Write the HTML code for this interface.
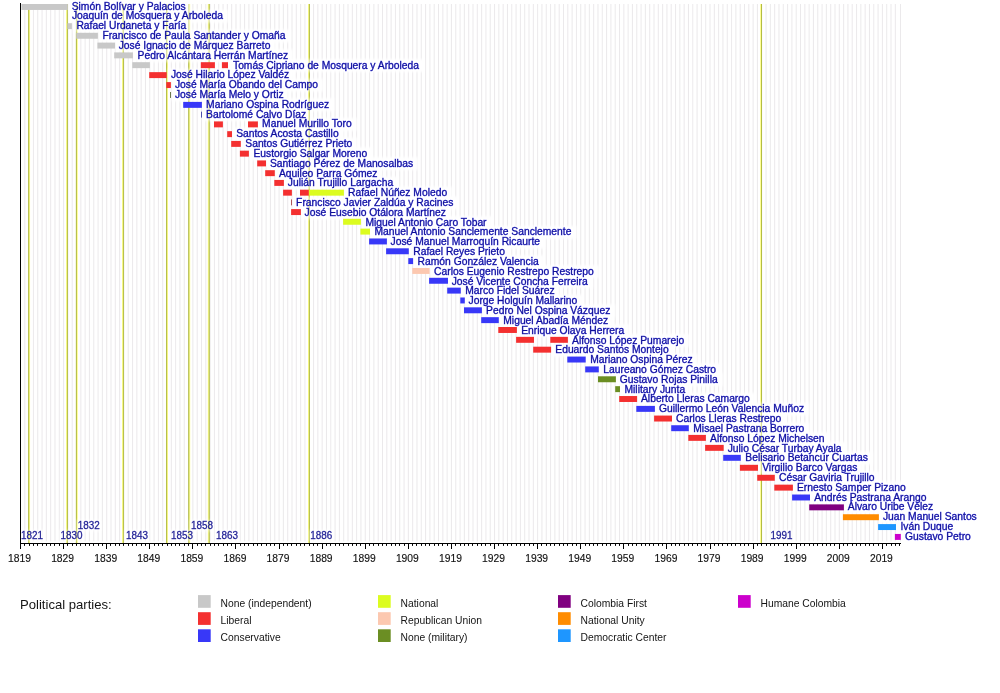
<!DOCTYPE html><html><head><meta charset="utf-8"><style>html,body{margin:0;padding:0;background:#fff;width:1000px;height:693px;overflow:hidden}svg{display:block;will-change:transform}text{font-family:"Liberation Sans",sans-serif}</style></head><body>
<svg width="1000" height="693" viewBox="0 0 1000 693">
<rect width="1000" height="693" fill="#fff"/>
<path d="M24.81 4.0V541.3 M29.12 4.0V541.3 M33.43 4.0V541.3 M37.74 4.0V541.3 M42.05 4.0V541.3 M46.36 4.0V541.3 M50.67 4.0V541.3 M54.98 4.0V541.3 M59.29 4.0V541.3 M63.59 4.0V541.3 M67.90 4.0V541.3 M72.21 4.0V541.3 M76.52 4.0V541.3 M80.83 4.0V541.3 M85.14 4.0V541.3 M89.45 4.0V541.3 M93.76 4.0V541.3 M98.07 4.0V541.3 M102.38 4.0V541.3 M106.69 4.0V541.3 M111.00 4.0V541.3 M115.31 4.0V541.3 M119.62 4.0V541.3 M123.93 4.0V541.3 M128.24 4.0V541.3 M132.55 4.0V541.3 M136.86 4.0V541.3 M141.17 4.0V541.3 M145.48 4.0V541.3 M149.78 4.0V541.3 M154.09 4.0V541.3 M158.40 4.0V541.3 M162.71 4.0V541.3 M167.02 4.0V541.3 M171.33 4.0V541.3 M175.64 4.0V541.3 M179.95 4.0V541.3 M184.26 4.0V541.3 M188.57 4.0V541.3 M192.88 4.0V541.3 M197.19 4.0V541.3 M201.50 4.0V541.3 M205.81 4.0V541.3 M210.12 4.0V541.3 M214.43 4.0V541.3 M218.74 4.0V541.3 M223.05 4.0V541.3 M227.36 4.0V541.3 M231.67 4.0V541.3 M235.97 4.0V541.3 M240.28 4.0V541.3 M244.59 4.0V541.3 M248.90 4.0V541.3 M253.21 4.0V541.3 M257.52 4.0V541.3 M261.83 4.0V541.3 M266.14 4.0V541.3 M270.45 4.0V541.3 M274.76 4.0V541.3 M279.07 4.0V541.3 M283.38 4.0V541.3 M287.69 4.0V541.3 M292.00 4.0V541.3 M296.31 4.0V541.3 M300.62 4.0V541.3 M304.93 4.0V541.3 M309.24 4.0V541.3 M313.55 4.0V541.3 M317.86 4.0V541.3 M322.16 4.0V541.3 M326.47 4.0V541.3 M330.78 4.0V541.3 M335.09 4.0V541.3 M339.40 4.0V541.3 M343.71 4.0V541.3 M348.02 4.0V541.3 M352.33 4.0V541.3 M356.64 4.0V541.3 M360.95 4.0V541.3 M365.26 4.0V541.3 M369.57 4.0V541.3 M373.88 4.0V541.3 M378.19 4.0V541.3 M382.50 4.0V541.3 M386.81 4.0V541.3 M391.12 4.0V541.3 M395.43 4.0V541.3 M399.74 4.0V541.3 M404.05 4.0V541.3 M408.36 4.0V541.3 M412.66 4.0V541.3 M416.97 4.0V541.3 M421.28 4.0V541.3 M425.59 4.0V541.3 M429.90 4.0V541.3 M434.21 4.0V541.3 M438.52 4.0V541.3 M442.83 4.0V541.3 M447.14 4.0V541.3 M451.45 4.0V541.3 M455.76 4.0V541.3 M460.07 4.0V541.3 M464.38 4.0V541.3 M468.69 4.0V541.3 M473.00 4.0V541.3 M477.31 4.0V541.3 M481.62 4.0V541.3 M485.93 4.0V541.3 M490.24 4.0V541.3 M494.54 4.0V541.3 M498.85 4.0V541.3 M503.16 4.0V541.3 M507.47 4.0V541.3 M511.78 4.0V541.3 M516.09 4.0V541.3 M520.40 4.0V541.3 M524.71 4.0V541.3 M529.02 4.0V541.3 M533.33 4.0V541.3 M537.64 4.0V541.3 M541.95 4.0V541.3 M546.26 4.0V541.3 M550.57 4.0V541.3 M554.88 4.0V541.3 M559.19 4.0V541.3 M563.50 4.0V541.3 M567.81 4.0V541.3 M572.12 4.0V541.3 M576.43 4.0V541.3 M580.74 4.0V541.3 M585.04 4.0V541.3 M589.35 4.0V541.3 M593.66 4.0V541.3 M597.97 4.0V541.3 M602.28 4.0V541.3 M606.59 4.0V541.3 M610.90 4.0V541.3 M615.21 4.0V541.3 M619.52 4.0V541.3 M623.83 4.0V541.3 M628.14 4.0V541.3 M632.45 4.0V541.3 M636.76 4.0V541.3 M641.07 4.0V541.3 M645.38 4.0V541.3 M649.69 4.0V541.3 M654.00 4.0V541.3 M658.31 4.0V541.3 M662.62 4.0V541.3 M666.92 4.0V541.3 M671.23 4.0V541.3 M675.54 4.0V541.3 M679.85 4.0V541.3 M684.16 4.0V541.3 M688.47 4.0V541.3 M692.78 4.0V541.3 M697.09 4.0V541.3 M701.40 4.0V541.3 M705.71 4.0V541.3 M710.02 4.0V541.3 M714.33 4.0V541.3 M718.64 4.0V541.3 M722.95 4.0V541.3 M727.26 4.0V541.3 M731.57 4.0V541.3 M735.88 4.0V541.3 M740.19 4.0V541.3 M744.50 4.0V541.3 M748.81 4.0V541.3 M753.12 4.0V541.3 M757.42 4.0V541.3 M761.73 4.0V541.3 M766.04 4.0V541.3 M770.35 4.0V541.3 M774.66 4.0V541.3 M778.97 4.0V541.3 M783.28 4.0V541.3 M787.59 4.0V541.3 M791.90 4.0V541.3 M796.21 4.0V541.3 M800.52 4.0V541.3 M804.83 4.0V541.3 M809.14 4.0V541.3 M813.45 4.0V541.3 M817.76 4.0V541.3 M822.07 4.0V541.3 M826.38 4.0V541.3 M830.69 4.0V541.3 M835.00 4.0V541.3 M839.30 4.0V541.3 M843.61 4.0V541.3 M847.92 4.0V541.3 M852.23 4.0V541.3 M856.54 4.0V541.3 M860.85 4.0V541.3 M865.16 4.0V541.3 M869.47 4.0V541.3 M873.78 4.0V541.3 M878.09 4.0V541.3 M882.40 4.0V541.3 M886.71 4.0V541.3 M891.02 4.0V541.3 M895.33 4.0V541.3 M900.50 4.0V541.3" stroke="#e2dfe2" stroke-width="0.7" fill="none"/>
<path d="M29.55 4.0V543.5" stroke="#ffff80" stroke-width="0.8" fill="none"/><path d="M28.70 4.0V543.5" stroke="#b0ba3a" stroke-width="0.9" fill="none"/>
<path d="M66.55 4.0V543.5" stroke="#ffff80" stroke-width="0.8" fill="none"/><path d="M67.40 4.0V543.5" stroke="#b0ba3a" stroke-width="0.9" fill="none"/>
<path d="M77.25 4.0V543.5" stroke="#ffff80" stroke-width="0.8" fill="none"/><path d="M76.40 4.0V543.5" stroke="#b0ba3a" stroke-width="0.9" fill="none"/>
<path d="M122.55 4.0V543.5" stroke="#ffff80" stroke-width="0.8" fill="none"/><path d="M123.40 4.0V543.5" stroke="#b0ba3a" stroke-width="0.9" fill="none"/>
<path d="M167.45 4.0V543.5" stroke="#ffff80" stroke-width="0.8" fill="none"/><path d="M166.60 4.0V543.5" stroke="#b0ba3a" stroke-width="0.9" fill="none"/>
<path d="M189.65 4.0V543.5" stroke="#ffff80" stroke-width="0.8" fill="none"/><path d="M188.80 4.0V543.5" stroke="#b0ba3a" stroke-width="0.9" fill="none"/>
<path d="M208.35 4.0V543.5" stroke="#ffff80" stroke-width="0.8" fill="none"/><path d="M209.20 4.0V543.5" stroke="#b0ba3a" stroke-width="0.9" fill="none"/>
<path d="M308.50 4.0V543.5" stroke="#ffff80" stroke-width="0.8" fill="none"/><path d="M309.35 4.0V543.5" stroke="#b0ba3a" stroke-width="0.9" fill="none"/>
<path d="M760.65 4.0V543.5" stroke="#ffff80" stroke-width="0.8" fill="none"/><path d="M761.50 4.0V543.5" stroke="#b0ba3a" stroke-width="0.9" fill="none"/>
<defs><filter id="halo" x="-5%" y="-5%" width="110%" height="110%"><feGaussianBlur stdDeviation="1.3"/></filter></defs>
<g filter="url(#halo)" fill="#fff" fill-opacity="0.97">
<rect x="68.50" y="0.05" width="121.89" height="13"/>
<rect x="68.70" y="9.87" width="159.40" height="13"/>
<rect x="73.20" y="19.69" width="118.16" height="13"/>
<rect x="99.20" y="29.51" width="191.43" height="13"/>
<rect x="115.50" y="39.33" width="159.95" height="13"/>
<rect x="134.40" y="49.15" width="158.53" height="13"/>
<rect x="229.80" y="58.96" width="194.29" height="13"/>
<rect x="167.70" y="68.78" width="126.30" height="13"/>
<rect x="171.70" y="78.60" width="151.36" height="13"/>
<rect x="171.70" y="88.42" width="116.72" height="13"/>
<rect x="202.90" y="98.24" width="131.06" height="13"/>
<rect x="202.90" y="108.06" width="108.16" height="13"/>
<rect x="258.90" y="117.88" width="97.93" height="13"/>
<rect x="233.00" y="127.70" width="110.72" height="13"/>
<rect x="242.10" y="137.52" width="115.29" height="13"/>
<rect x="250.20" y="147.34" width="122.17" height="13"/>
<rect x="266.80" y="157.15" width="151.11" height="13"/>
<rect x="275.80" y="166.97" width="106.45" height="13"/>
<rect x="284.60" y="176.79" width="113.59" height="13"/>
<rect x="344.90" y="186.61" width="107.30" height="13"/>
<rect x="292.90" y="196.43" width="165.38" height="13"/>
<rect x="301.40" y="206.25" width="149.38" height="13"/>
<rect x="362.20" y="216.07" width="129.73" height="13"/>
<rect x="371.30" y="225.89" width="205.19" height="13"/>
<rect x="387.40" y="235.71" width="157.65" height="13"/>
<rect x="410.10" y="245.53" width="99.84" height="13"/>
<rect x="414.40" y="255.34" width="129.42" height="13"/>
<rect x="430.90" y="265.16" width="167.96" height="13"/>
<rect x="448.50" y="274.98" width="144.30" height="13"/>
<rect x="462.10" y="284.80" width="97.28" height="13"/>
<rect x="465.30" y="294.62" width="117.02" height="13"/>
<rect x="482.90" y="304.44" width="132.22" height="13"/>
<rect x="500.10" y="314.26" width="112.77" height="13"/>
<rect x="518.00" y="324.08" width="111.29" height="13"/>
<rect x="568.90" y="333.90" width="120.46" height="13"/>
<rect x="552.10" y="343.71" width="121.61" height="13"/>
<rect x="587.00" y="353.53" width="110.45" height="13"/>
<rect x="600.10" y="363.35" width="121.03" height="13"/>
<rect x="616.60" y="373.17" width="106.14" height="13"/>
<rect x="621.30" y="382.99" width="68.93" height="13"/>
<rect x="637.80" y="392.81" width="117.01" height="13"/>
<rect x="655.70" y="402.63" width="153.19" height="13"/>
<rect x="672.80" y="412.45" width="113.58" height="13"/>
<rect x="690.10" y="422.27" width="119.30" height="13"/>
<rect x="706.90" y="432.09" width="122.75" height="13"/>
<rect x="724.50" y="441.90" width="121.98" height="13"/>
<rect x="742.10" y="451.72" width="130.48" height="13"/>
<rect x="759.00" y="461.54" width="103.20" height="13"/>
<rect x="775.80" y="471.36" width="103.83" height="13"/>
<rect x="793.70" y="481.18" width="117.02" height="13"/>
<rect x="811.00" y="491.00" width="120.47" height="13"/>
<rect x="844.60" y="500.82" width="93.28" height="13"/>
<rect x="879.70" y="510.64" width="101.89" height="13"/>
<rect x="897.30" y="520.46" width="60.94" height="13"/>
<rect x="901.80" y="530.28" width="74.09" height="13"/>
</g>
<g filter="url(#halo)" fill="#fff" fill-opacity="0.6">
<rect x="19.20" y="529.70" width="25" height="12"/>
<rect x="58.80" y="529.70" width="25" height="12"/>
<rect x="76.00" y="519.70" width="25" height="12"/>
<rect x="124.20" y="529.70" width="25" height="12"/>
<rect x="169.20" y="529.70" width="25" height="12"/>
<rect x="189.20" y="519.70" width="25" height="12"/>
<rect x="214.20" y="529.70" width="25" height="12"/>
<rect x="308.50" y="529.70" width="25" height="12"/>
<rect x="768.80" y="529.70" width="25" height="12"/>
</g>
<g opacity="0.55"><path d="M29.55 4.0V543.5" stroke="#ffff80" stroke-width="0.8" fill="none"/><path d="M28.70 4.0V543.5" stroke="#b0ba3a" stroke-width="0.9" fill="none"/></g>
<g opacity="0.55"><path d="M66.55 4.0V543.5" stroke="#ffff80" stroke-width="0.8" fill="none"/><path d="M67.40 4.0V543.5" stroke="#b0ba3a" stroke-width="0.9" fill="none"/></g>
<g opacity="0.55"><path d="M77.25 4.0V543.5" stroke="#ffff80" stroke-width="0.8" fill="none"/><path d="M76.40 4.0V543.5" stroke="#b0ba3a" stroke-width="0.9" fill="none"/></g>
<g opacity="0.55"><path d="M122.55 4.0V543.5" stroke="#ffff80" stroke-width="0.8" fill="none"/><path d="M123.40 4.0V543.5" stroke="#b0ba3a" stroke-width="0.9" fill="none"/></g>
<g opacity="0.55"><path d="M167.45 4.0V543.5" stroke="#ffff80" stroke-width="0.8" fill="none"/><path d="M166.60 4.0V543.5" stroke="#b0ba3a" stroke-width="0.9" fill="none"/></g>
<g opacity="0.55"><path d="M189.65 4.0V543.5" stroke="#ffff80" stroke-width="0.8" fill="none"/><path d="M188.80 4.0V543.5" stroke="#b0ba3a" stroke-width="0.9" fill="none"/></g>
<g opacity="0.55"><path d="M208.35 4.0V543.5" stroke="#ffff80" stroke-width="0.8" fill="none"/><path d="M209.20 4.0V543.5" stroke="#b0ba3a" stroke-width="0.9" fill="none"/></g>
<g opacity="0.55"><path d="M308.50 4.0V543.5" stroke="#ffff80" stroke-width="0.8" fill="none"/><path d="M309.35 4.0V543.5" stroke="#b0ba3a" stroke-width="0.9" fill="none"/></g>
<g opacity="0.55"><path d="M760.65 4.0V543.5" stroke="#ffff80" stroke-width="0.8" fill="none"/><path d="M761.50 4.0V543.5" stroke="#b0ba3a" stroke-width="0.9" fill="none"/></g>
<rect x="21.40" y="4.00" width="46.40" height="5.95" fill="#c8c8c8"/>
<rect x="67.40" y="23.20" width="4.50" height="5.95" fill="#c8c8c8"/>
<rect x="76.30" y="32.80" width="21.60" height="5.95" fill="#c8c8c8"/>
<rect x="97.40" y="42.60" width="17.60" height="5.95" fill="#c8c8c8"/>
<rect x="114.20" y="52.40" width="18.70" height="5.95" fill="#c8c8c8"/>
<rect x="132.30" y="62.20" width="17.60" height="5.95" fill="#c8c8c8"/>
<rect x="200.80" y="62.20" width="14.10" height="5.95" fill="#f43030"/>
<rect x="221.90" y="62.20" width="6.10" height="5.95" fill="#f43030"/>
<rect x="149.20" y="72.15" width="17.50" height="5.95" fill="#f43030"/>
<rect x="166.30" y="82.10" width="4.60" height="5.95" fill="#f43030"/>
<rect x="170.00" y="92.00" width="0.90" height="5.95" fill="#5c6a3a"/>
<rect x="183.20" y="101.90" width="18.70" height="5.95" fill="#3838f8"/>
<rect x="201.10" y="111.66" width="0.90" height="5.95" fill="#3c3ca8"/>
<rect x="214.00" y="121.41" width="8.90" height="5.95" fill="#f43030"/>
<rect x="248.00" y="121.41" width="9.90" height="5.95" fill="#f43030"/>
<rect x="227.20" y="131.17" width="4.80" height="5.95" fill="#f43030"/>
<rect x="231.20" y="140.92" width="9.60" height="5.95" fill="#f43030"/>
<rect x="239.90" y="150.68" width="9.00" height="5.95" fill="#f43030"/>
<rect x="257.20" y="160.43" width="8.80" height="5.95" fill="#f43030"/>
<rect x="265.20" y="170.19" width="9.60" height="5.95" fill="#f43030"/>
<rect x="274.30" y="179.94" width="9.60" height="5.95" fill="#f43030"/>
<rect x="283.10" y="189.70" width="8.80" height="5.95" fill="#f43030"/>
<rect x="300.00" y="189.70" width="8.90" height="5.95" fill="#f43030"/>
<rect x="308.90" y="189.70" width="35.00" height="5.95" fill="#dcfc20"/>
<rect x="291.00" y="199.40" width="0.90" height="5.95" fill="#a84444"/>
<rect x="291.10" y="209.10" width="9.80" height="5.95" fill="#f43030"/>
<rect x="343.10" y="218.80" width="17.80" height="5.95" fill="#dcfc20"/>
<rect x="360.40" y="228.63" width="9.60" height="5.95" fill="#dcfc20"/>
<rect x="369.10" y="238.47" width="17.80" height="5.95" fill="#3838f8"/>
<rect x="386.10" y="248.30" width="22.70" height="5.95" fill="#3838f8"/>
<rect x="408.30" y="258.13" width="4.80" height="5.95" fill="#3838f8"/>
<rect x="412.30" y="267.97" width="17.30" height="5.95" fill="#fcc8b0"/>
<rect x="429.10" y="277.80" width="18.90" height="5.95" fill="#3838f8"/>
<rect x="447.20" y="287.64" width="13.60" height="5.95" fill="#3838f8"/>
<rect x="460.30" y="297.49" width="4.50" height="5.95" fill="#3838f8"/>
<rect x="464.00" y="307.33" width="17.90" height="5.95" fill="#3838f8"/>
<rect x="481.20" y="317.17" width="17.60" height="5.95" fill="#3838f8"/>
<rect x="498.30" y="327.01" width="18.60" height="5.95" fill="#f43030"/>
<rect x="516.10" y="336.86" width="17.90" height="5.95" fill="#f43030"/>
<rect x="550.30" y="336.86" width="17.60" height="5.95" fill="#f43030"/>
<rect x="533.20" y="346.70" width="17.90" height="5.95" fill="#f43030"/>
<rect x="567.30" y="356.57" width="18.40" height="5.95" fill="#3838f8"/>
<rect x="585.20" y="366.43" width="13.60" height="5.95" fill="#3838f8"/>
<rect x="598.00" y="376.30" width="17.90" height="5.95" fill="#6b8e23"/>
<rect x="615.20" y="386.17" width="4.80" height="5.95" fill="#6b8e23"/>
<rect x="619.20" y="396.03" width="17.90" height="5.95" fill="#f43030"/>
<rect x="636.30" y="405.90" width="18.60" height="5.95" fill="#3838f8"/>
<rect x="654.10" y="415.57" width="17.90" height="5.95" fill="#f43030"/>
<rect x="671.20" y="425.23" width="17.60" height="5.95" fill="#3838f8"/>
<rect x="688.30" y="434.90" width="17.60" height="5.95" fill="#f43030"/>
<rect x="705.10" y="444.88" width="18.60" height="5.95" fill="#f43030"/>
<rect x="723.20" y="454.85" width="17.60" height="5.95" fill="#3838f8"/>
<rect x="739.90" y="464.82" width="18.10" height="5.95" fill="#f43030"/>
<rect x="757.20" y="474.80" width="17.60" height="5.95" fill="#f43030"/>
<rect x="774.30" y="484.66" width="18.60" height="5.95" fill="#f43030"/>
<rect x="792.10" y="494.52" width="17.90" height="5.95" fill="#3838f8"/>
<rect x="809.20" y="504.38" width="34.70" height="5.95" fill="#800080"/>
<rect x="842.90" y="514.23" width="36.00" height="5.95" fill="#ff8c00"/>
<rect x="878.10" y="524.09" width="17.90" height="5.95" fill="#1e96ff"/>
<rect x="894.90" y="533.95" width="5.90" height="5.95" fill="#cc00cc"/>
<text x="71.70" y="9.65" font-size="10.3" fill="#0e0e96" stroke="#4242e6" stroke-width="0.4" paint-order="stroke">Simón Bolívar y Palacios</text>
<text x="71.90" y="19.47" font-size="10.3" fill="#0e0e96" stroke="#4242e6" stroke-width="0.4" paint-order="stroke">Joaquín de Mosquera y Arboleda</text>
<text x="76.40" y="29.29" font-size="10.3" fill="#0e0e96" stroke="#4242e6" stroke-width="0.4" paint-order="stroke">Rafael Urdaneta y Faría</text>
<text x="102.40" y="39.11" font-size="10.3" fill="#0e0e96" stroke="#4242e6" stroke-width="0.4" paint-order="stroke">Francisco de Paula Santander y Omaña</text>
<text x="118.70" y="48.93" font-size="10.3" fill="#0e0e96" stroke="#4242e6" stroke-width="0.4" paint-order="stroke">José Ignacio de Márquez Barreto</text>
<text x="137.60" y="58.75" font-size="10.3" fill="#0e0e96" stroke="#4242e6" stroke-width="0.4" paint-order="stroke">Pedro Alcántara Herrán Martínez</text>
<text x="233.00" y="68.56" font-size="10.3" fill="#0e0e96" stroke="#4242e6" stroke-width="0.4" paint-order="stroke">Tomás Cipriano de Mosquera y Arboleda</text>
<text x="170.90" y="78.38" font-size="10.3" fill="#0e0e96" stroke="#4242e6" stroke-width="0.4" paint-order="stroke">José Hilario López Valdéz</text>
<text x="174.90" y="88.20" font-size="10.3" fill="#0e0e96" stroke="#4242e6" stroke-width="0.4" paint-order="stroke">José María Obando del Campo</text>
<text x="174.90" y="98.02" font-size="10.3" fill="#0e0e96" stroke="#4242e6" stroke-width="0.4" paint-order="stroke">José María Melo y Ortiz</text>
<text x="206.10" y="107.84" font-size="10.3" fill="#0e0e96" stroke="#4242e6" stroke-width="0.4" paint-order="stroke">Mariano Ospina Rodríguez</text>
<text x="206.10" y="117.66" font-size="10.3" fill="#0e0e96" stroke="#4242e6" stroke-width="0.4" paint-order="stroke">Bartolomé Calvo Díaz</text>
<text x="262.10" y="127.48" font-size="10.3" fill="#0e0e96" stroke="#4242e6" stroke-width="0.4" paint-order="stroke">Manuel Murillo Toro</text>
<text x="236.20" y="137.30" font-size="10.3" fill="#0e0e96" stroke="#4242e6" stroke-width="0.4" paint-order="stroke">Santos Acosta Castillo</text>
<text x="245.30" y="147.12" font-size="10.3" fill="#0e0e96" stroke="#4242e6" stroke-width="0.4" paint-order="stroke">Santos Gutiérrez Prieto</text>
<text x="253.40" y="156.94" font-size="10.3" fill="#0e0e96" stroke="#4242e6" stroke-width="0.4" paint-order="stroke">Eustorgio Salgar Moreno</text>
<text x="270.00" y="166.75" font-size="10.3" fill="#0e0e96" stroke="#4242e6" stroke-width="0.4" paint-order="stroke">Santiago Pérez de Manosalbas</text>
<text x="279.00" y="176.57" font-size="10.3" fill="#0e0e96" stroke="#4242e6" stroke-width="0.4" paint-order="stroke">Aquileo Parra Gómez</text>
<text x="287.80" y="186.39" font-size="10.3" fill="#0e0e96" stroke="#4242e6" stroke-width="0.4" paint-order="stroke">Julián Trujillo Largacha</text>
<text x="348.10" y="196.21" font-size="10.3" fill="#0e0e96" stroke="#4242e6" stroke-width="0.4" paint-order="stroke">Rafael Núñez Moledo</text>
<text x="296.10" y="206.03" font-size="10.3" fill="#0e0e96" stroke="#4242e6" stroke-width="0.4" paint-order="stroke">Francisco Javier Zaldúa y Racines</text>
<text x="304.60" y="215.85" font-size="10.3" fill="#0e0e96" stroke="#4242e6" stroke-width="0.4" paint-order="stroke">José Eusebio Otálora Martínez</text>
<text x="365.40" y="225.67" font-size="10.3" fill="#0e0e96" stroke="#4242e6" stroke-width="0.4" paint-order="stroke">Miguel Antonio Caro Tobar</text>
<text x="374.50" y="235.49" font-size="10.3" fill="#0e0e96" stroke="#4242e6" stroke-width="0.4" paint-order="stroke">Manuel Antonio Sanclemente Sanclemente</text>
<text x="390.60" y="245.31" font-size="10.3" fill="#0e0e96" stroke="#4242e6" stroke-width="0.4" paint-order="stroke">José Manuel Marroquín Ricaurte</text>
<text x="413.30" y="255.13" font-size="10.3" fill="#0e0e96" stroke="#4242e6" stroke-width="0.4" paint-order="stroke">Rafael Reyes Prieto</text>
<text x="417.60" y="264.94" font-size="10.3" fill="#0e0e96" stroke="#4242e6" stroke-width="0.4" paint-order="stroke">Ramón González Valencia</text>
<text x="434.10" y="274.76" font-size="10.3" fill="#0e0e96" stroke="#4242e6" stroke-width="0.4" paint-order="stroke">Carlos Eugenio Restrepo Restrepo</text>
<text x="451.70" y="284.58" font-size="10.3" fill="#0e0e96" stroke="#4242e6" stroke-width="0.4" paint-order="stroke">José Vicente Concha Ferreira</text>
<text x="465.30" y="294.40" font-size="10.3" fill="#0e0e96" stroke="#4242e6" stroke-width="0.4" paint-order="stroke">Marco Fidel Suárez</text>
<text x="468.50" y="304.22" font-size="10.3" fill="#0e0e96" stroke="#4242e6" stroke-width="0.4" paint-order="stroke">Jorge Holguín Mallarino</text>
<text x="486.10" y="314.04" font-size="10.3" fill="#0e0e96" stroke="#4242e6" stroke-width="0.4" paint-order="stroke">Pedro Nel Ospina Vázquez</text>
<text x="503.30" y="323.86" font-size="10.3" fill="#0e0e96" stroke="#4242e6" stroke-width="0.4" paint-order="stroke">Miguel Abadía Méndez</text>
<text x="521.20" y="333.68" font-size="10.3" fill="#0e0e96" stroke="#4242e6" stroke-width="0.4" paint-order="stroke">Enrique Olaya Herrera</text>
<text x="572.10" y="343.50" font-size="10.3" fill="#0e0e96" stroke="#4242e6" stroke-width="0.4" paint-order="stroke">Alfonso López Pumarejo</text>
<text x="555.30" y="353.31" font-size="10.3" fill="#0e0e96" stroke="#4242e6" stroke-width="0.4" paint-order="stroke">Eduardo Santos Montejo</text>
<text x="590.20" y="363.13" font-size="10.3" fill="#0e0e96" stroke="#4242e6" stroke-width="0.4" paint-order="stroke">Mariano Ospina Pérez</text>
<text x="603.30" y="372.95" font-size="10.3" fill="#0e0e96" stroke="#4242e6" stroke-width="0.4" paint-order="stroke">Laureano Gómez Castro</text>
<text x="619.80" y="382.77" font-size="10.3" fill="#0e0e96" stroke="#4242e6" stroke-width="0.4" paint-order="stroke">Gustavo Rojas Pinilla</text>
<text x="624.50" y="392.59" font-size="10.3" fill="#0e0e96" stroke="#4242e6" stroke-width="0.4" paint-order="stroke">Military Junta</text>
<text x="641.00" y="402.41" font-size="10.3" fill="#0e0e96" stroke="#4242e6" stroke-width="0.4" paint-order="stroke">Alberto Lleras Camargo</text>
<text x="658.90" y="412.23" font-size="10.3" fill="#0e0e96" stroke="#4242e6" stroke-width="0.4" paint-order="stroke">Guillermo León Valencia Muñoz</text>
<text x="676.00" y="422.05" font-size="10.3" fill="#0e0e96" stroke="#4242e6" stroke-width="0.4" paint-order="stroke">Carlos Lleras Restrepo</text>
<text x="693.30" y="431.87" font-size="10.3" fill="#0e0e96" stroke="#4242e6" stroke-width="0.4" paint-order="stroke">Misael Pastrana Borrero</text>
<text x="710.10" y="441.69" font-size="10.3" fill="#0e0e96" stroke="#4242e6" stroke-width="0.4" paint-order="stroke">Alfonso López Michelsen</text>
<text x="727.70" y="451.50" font-size="10.3" fill="#0e0e96" stroke="#4242e6" stroke-width="0.4" paint-order="stroke">Julio César Turbay Ayala</text>
<text x="745.30" y="461.32" font-size="10.3" fill="#0e0e96" stroke="#4242e6" stroke-width="0.4" paint-order="stroke">Belisario Betancur Cuartas</text>
<text x="762.20" y="471.14" font-size="10.3" fill="#0e0e96" stroke="#4242e6" stroke-width="0.4" paint-order="stroke">Virgilio Barco Vargas</text>
<text x="779.00" y="480.96" font-size="10.3" fill="#0e0e96" stroke="#4242e6" stroke-width="0.4" paint-order="stroke">César Gaviria Trujillo</text>
<text x="796.90" y="490.78" font-size="10.3" fill="#0e0e96" stroke="#4242e6" stroke-width="0.4" paint-order="stroke">Ernesto Samper Pizano</text>
<text x="814.20" y="500.60" font-size="10.3" fill="#0e0e96" stroke="#4242e6" stroke-width="0.4" paint-order="stroke">Andrés Pastrana Arango</text>
<text x="847.80" y="510.42" font-size="10.3" fill="#0e0e96" stroke="#4242e6" stroke-width="0.4" paint-order="stroke">Álvaro Uribe Vélez</text>
<text x="882.90" y="520.24" font-size="10.3" fill="#0e0e96" stroke="#4242e6" stroke-width="0.4" paint-order="stroke">Juan Manuel Santos</text>
<text x="900.50" y="530.06" font-size="10.3" fill="#0e0e96" stroke="#4242e6" stroke-width="0.4" paint-order="stroke">Iván Duque</text>
<text x="905.00" y="539.88" font-size="10.3" fill="#0e0e96" stroke="#4242e6" stroke-width="0.4" paint-order="stroke">Gustavo Petro</text>
<text x="21.00" y="539.2" font-size="10.3" fill="#1e1e90" stroke="#3c3cb8" stroke-width="0.3" paint-order="stroke" textLength="22" lengthAdjust="spacingAndGlyphs">1821</text>
<text x="60.60" y="539.2" font-size="10.3" fill="#1e1e90" stroke="#3c3cb8" stroke-width="0.3" paint-order="stroke" textLength="22" lengthAdjust="spacingAndGlyphs">1830</text>
<text x="77.80" y="529.2" font-size="10.3" fill="#1e1e90" stroke="#3c3cb8" stroke-width="0.3" paint-order="stroke" textLength="22" lengthAdjust="spacingAndGlyphs">1832</text>
<text x="126.00" y="539.2" font-size="10.3" fill="#1e1e90" stroke="#3c3cb8" stroke-width="0.3" paint-order="stroke" textLength="22" lengthAdjust="spacingAndGlyphs">1843</text>
<text x="171.00" y="539.2" font-size="10.3" fill="#1e1e90" stroke="#3c3cb8" stroke-width="0.3" paint-order="stroke" textLength="22" lengthAdjust="spacingAndGlyphs">1853</text>
<text x="191.00" y="529.2" font-size="10.3" fill="#1e1e90" stroke="#3c3cb8" stroke-width="0.3" paint-order="stroke" textLength="22" lengthAdjust="spacingAndGlyphs">1858</text>
<text x="216.00" y="539.2" font-size="10.3" fill="#1e1e90" stroke="#3c3cb8" stroke-width="0.3" paint-order="stroke" textLength="22" lengthAdjust="spacingAndGlyphs">1863</text>
<text x="310.30" y="539.2" font-size="10.3" fill="#1e1e90" stroke="#3c3cb8" stroke-width="0.3" paint-order="stroke" textLength="22" lengthAdjust="spacingAndGlyphs">1886</text>
<text x="770.60" y="539.2" font-size="10.3" fill="#1e1e90" stroke="#3c3cb8" stroke-width="0.3" paint-order="stroke" textLength="22" lengthAdjust="spacingAndGlyphs">1991</text>
<path d="M20.5 3.0V549" stroke="#000" stroke-width="1" fill="none"/>
<path d="M20 543.5H901" stroke="#000" stroke-width="1" fill="none"/>
<path d="M20.50 543.5V549.0 M24.50 543.5V545.9 M29.50 543.5V545.9 M33.50 543.5V545.9 M37.50 543.5V545.9 M42.50 543.5V545.9 M46.50 543.5V545.9 M50.50 543.5V545.9 M54.50 543.5V545.9 M59.50 543.5V545.9 M63.50 543.5V549.0 M67.50 543.5V545.9 M72.50 543.5V545.9 M76.50 543.5V545.9 M80.50 543.5V545.9 M85.50 543.5V545.9 M89.50 543.5V545.9 M93.50 543.5V545.9 M98.50 543.5V545.9 M102.50 543.5V545.9 M106.50 543.5V549.0 M110.50 543.5V545.9 M115.50 543.5V545.9 M119.50 543.5V545.9 M123.50 543.5V545.9 M128.50 543.5V545.9 M132.50 543.5V545.9 M136.50 543.5V545.9 M141.50 543.5V545.9 M145.50 543.5V545.9 M149.50 543.5V549.0 M154.50 543.5V545.9 M158.50 543.5V545.9 M162.50 543.5V545.9 M167.50 543.5V545.9 M171.50 543.5V545.9 M175.50 543.5V545.9 M179.50 543.5V545.9 M184.50 543.5V545.9 M188.50 543.5V545.9 M192.50 543.5V549.0 M197.50 543.5V545.9 M201.50 543.5V545.9 M205.50 543.5V545.9 M210.50 543.5V545.9 M214.50 543.5V545.9 M218.50 543.5V545.9 M223.50 543.5V545.9 M227.50 543.5V545.9 M231.50 543.5V545.9 M235.50 543.5V549.0 M240.50 543.5V545.9 M244.50 543.5V545.9 M248.50 543.5V545.9 M253.50 543.5V545.9 M257.50 543.5V545.9 M261.50 543.5V545.9 M266.50 543.5V545.9 M270.50 543.5V545.9 M274.50 543.5V545.9 M279.50 543.5V549.0 M283.50 543.5V545.9 M287.50 543.5V545.9 M291.50 543.5V545.9 M296.50 543.5V545.9 M300.50 543.5V545.9 M304.50 543.5V545.9 M309.50 543.5V545.9 M313.50 543.5V545.9 M317.50 543.5V545.9 M322.50 543.5V549.0 M326.50 543.5V545.9 M330.50 543.5V545.9 M335.50 543.5V545.9 M339.50 543.5V545.9 M343.50 543.5V545.9 M348.50 543.5V545.9 M352.50 543.5V545.9 M356.50 543.5V545.9 M360.50 543.5V545.9 M365.50 543.5V549.0 M369.50 543.5V545.9 M373.50 543.5V545.9 M378.50 543.5V545.9 M382.50 543.5V545.9 M386.50 543.5V545.9 M391.50 543.5V545.9 M395.50 543.5V545.9 M399.50 543.5V545.9 M404.50 543.5V545.9 M408.50 543.5V549.0 M412.50 543.5V545.9 M416.50 543.5V545.9 M421.50 543.5V545.9 M425.50 543.5V545.9 M429.50 543.5V545.9 M434.50 543.5V545.9 M438.50 543.5V545.9 M442.50 543.5V545.9 M447.50 543.5V545.9 M451.50 543.5V549.0 M455.50 543.5V545.9 M460.50 543.5V545.9 M464.50 543.5V545.9 M468.50 543.5V545.9 M472.50 543.5V545.9 M477.50 543.5V545.9 M481.50 543.5V545.9 M485.50 543.5V545.9 M490.50 543.5V545.9 M494.50 543.5V549.0 M498.50 543.5V545.9 M503.50 543.5V545.9 M507.50 543.5V545.9 M511.50 543.5V545.9 M516.50 543.5V545.9 M520.50 543.5V545.9 M524.50 543.5V545.9 M529.50 543.5V545.9 M533.50 543.5V545.9 M537.50 543.5V549.0 M541.50 543.5V545.9 M546.50 543.5V545.9 M550.50 543.5V545.9 M554.50 543.5V545.9 M559.50 543.5V545.9 M563.50 543.5V545.9 M567.50 543.5V545.9 M572.50 543.5V545.9 M576.50 543.5V545.9 M580.50 543.5V549.0 M585.50 543.5V545.9 M589.50 543.5V545.9 M593.50 543.5V545.9 M597.50 543.5V545.9 M602.50 543.5V545.9 M606.50 543.5V545.9 M610.50 543.5V545.9 M615.50 543.5V545.9 M619.50 543.5V545.9 M623.50 543.5V549.0 M628.50 543.5V545.9 M632.50 543.5V545.9 M636.50 543.5V545.9 M641.50 543.5V545.9 M645.50 543.5V545.9 M649.50 543.5V545.9 M653.50 543.5V545.9 M658.50 543.5V545.9 M662.50 543.5V545.9 M666.50 543.5V549.0 M671.50 543.5V545.9 M675.50 543.5V545.9 M679.50 543.5V545.9 M684.50 543.5V545.9 M688.50 543.5V545.9 M692.50 543.5V545.9 M697.50 543.5V545.9 M701.50 543.5V545.9 M705.50 543.5V545.9 M710.50 543.5V549.0 M714.50 543.5V545.9 M718.50 543.5V545.9 M722.50 543.5V545.9 M727.50 543.5V545.9 M731.50 543.5V545.9 M735.50 543.5V545.9 M740.50 543.5V545.9 M744.50 543.5V545.9 M748.50 543.5V545.9 M753.50 543.5V549.0 M757.50 543.5V545.9 M761.50 543.5V545.9 M766.50 543.5V545.9 M770.50 543.5V545.9 M774.50 543.5V545.9 M778.50 543.5V545.9 M783.50 543.5V545.9 M787.50 543.5V545.9 M791.50 543.5V545.9 M796.50 543.5V549.0 M800.50 543.5V545.9 M804.50 543.5V545.9 M809.50 543.5V545.9 M813.50 543.5V545.9 M817.50 543.5V545.9 M822.50 543.5V545.9 M826.50 543.5V545.9 M830.50 543.5V545.9 M834.50 543.5V545.9 M839.50 543.5V549.0 M843.50 543.5V545.9 M847.50 543.5V545.9 M852.50 543.5V545.9 M856.50 543.5V545.9 M860.50 543.5V545.9 M865.50 543.5V545.9 M869.50 543.5V545.9 M873.50 543.5V545.9 M878.50 543.5V545.9 M882.50 543.5V549.0 M886.50 543.5V545.9 M891.50 543.5V545.9 M895.50 543.5V545.9 M899.50 543.5V545.9" stroke="#000" stroke-width="1" fill="none"/>
<text x="19.50" y="562" font-size="10.3" fill="#0c0c0c" stroke="#2a2a2a" stroke-width="0.15" text-anchor="middle">1819</text>
<text x="62.59" y="562" font-size="10.3" fill="#0c0c0c" stroke="#2a2a2a" stroke-width="0.15" text-anchor="middle">1829</text>
<text x="105.69" y="562" font-size="10.3" fill="#0c0c0c" stroke="#2a2a2a" stroke-width="0.15" text-anchor="middle">1839</text>
<text x="148.78" y="562" font-size="10.3" fill="#0c0c0c" stroke="#2a2a2a" stroke-width="0.15" text-anchor="middle">1849</text>
<text x="191.88" y="562" font-size="10.3" fill="#0c0c0c" stroke="#2a2a2a" stroke-width="0.15" text-anchor="middle">1859</text>
<text x="234.97" y="562" font-size="10.3" fill="#0c0c0c" stroke="#2a2a2a" stroke-width="0.15" text-anchor="middle">1869</text>
<text x="278.07" y="562" font-size="10.3" fill="#0c0c0c" stroke="#2a2a2a" stroke-width="0.15" text-anchor="middle">1879</text>
<text x="321.16" y="562" font-size="10.3" fill="#0c0c0c" stroke="#2a2a2a" stroke-width="0.15" text-anchor="middle">1889</text>
<text x="364.26" y="562" font-size="10.3" fill="#0c0c0c" stroke="#2a2a2a" stroke-width="0.15" text-anchor="middle">1899</text>
<text x="407.36" y="562" font-size="10.3" fill="#0c0c0c" stroke="#2a2a2a" stroke-width="0.15" text-anchor="middle">1909</text>
<text x="450.45" y="562" font-size="10.3" fill="#0c0c0c" stroke="#2a2a2a" stroke-width="0.15" text-anchor="middle">1919</text>
<text x="493.54" y="562" font-size="10.3" fill="#0c0c0c" stroke="#2a2a2a" stroke-width="0.15" text-anchor="middle">1929</text>
<text x="536.64" y="562" font-size="10.3" fill="#0c0c0c" stroke="#2a2a2a" stroke-width="0.15" text-anchor="middle">1939</text>
<text x="579.74" y="562" font-size="10.3" fill="#0c0c0c" stroke="#2a2a2a" stroke-width="0.15" text-anchor="middle">1949</text>
<text x="622.83" y="562" font-size="10.3" fill="#0c0c0c" stroke="#2a2a2a" stroke-width="0.15" text-anchor="middle">1959</text>
<text x="665.92" y="562" font-size="10.3" fill="#0c0c0c" stroke="#2a2a2a" stroke-width="0.15" text-anchor="middle">1969</text>
<text x="709.02" y="562" font-size="10.3" fill="#0c0c0c" stroke="#2a2a2a" stroke-width="0.15" text-anchor="middle">1979</text>
<text x="752.12" y="562" font-size="10.3" fill="#0c0c0c" stroke="#2a2a2a" stroke-width="0.15" text-anchor="middle">1989</text>
<text x="795.21" y="562" font-size="10.3" fill="#0c0c0c" stroke="#2a2a2a" stroke-width="0.15" text-anchor="middle">1999</text>
<text x="838.30" y="562" font-size="10.3" fill="#0c0c0c" stroke="#2a2a2a" stroke-width="0.15" text-anchor="middle">2009</text>
<text x="881.40" y="562" font-size="10.3" fill="#0c0c0c" stroke="#2a2a2a" stroke-width="0.15" text-anchor="middle">2019</text>
<text x="20" y="609.3" font-size="13.1" fill="#141414">Political parties:</text>
<rect x="198.0" y="595.10" width="12.7" height="12.7" fill="#c8c8c8"/>
<text x="220.6" y="606.60" font-size="10.3" fill="#141414">None (independent)</text>
<rect x="198.0" y="612.20" width="12.7" height="12.7" fill="#f43030"/>
<text x="220.6" y="623.70" font-size="10.3" fill="#141414">Liberal</text>
<rect x="198.0" y="629.30" width="12.7" height="12.7" fill="#3838f8"/>
<text x="220.6" y="640.80" font-size="10.3" fill="#141414">Conservative</text>
<rect x="378.0" y="595.10" width="12.7" height="12.7" fill="#dcfc20"/>
<text x="400.6" y="606.60" font-size="10.3" fill="#141414">National</text>
<rect x="378.0" y="612.20" width="12.7" height="12.7" fill="#fcc8b0"/>
<text x="400.6" y="623.70" font-size="10.3" fill="#141414">Republican Union</text>
<rect x="378.0" y="629.30" width="12.7" height="12.7" fill="#6b8e23"/>
<text x="400.6" y="640.80" font-size="10.3" fill="#141414">None (military)</text>
<rect x="558.0" y="595.10" width="12.7" height="12.7" fill="#800080"/>
<text x="580.6" y="606.60" font-size="10.3" fill="#141414">Colombia First</text>
<rect x="558.0" y="612.20" width="12.7" height="12.7" fill="#ff8c00"/>
<text x="580.6" y="623.70" font-size="10.3" fill="#141414">National Unity</text>
<rect x="558.0" y="629.30" width="12.7" height="12.7" fill="#1e96ff"/>
<text x="580.6" y="640.80" font-size="10.3" fill="#141414">Democratic Center</text>
<rect x="738.0" y="595.10" width="12.7" height="12.7" fill="#cc00cc"/>
<text x="760.5" y="606.60" font-size="10.3" fill="#141414">Humane Colombia</text>
</svg></body></html>
